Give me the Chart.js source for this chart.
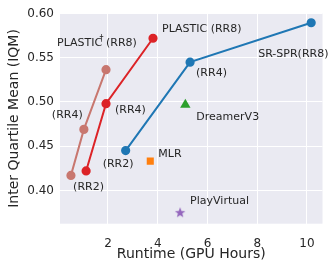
<!DOCTYPE html>
<html>
<head>
<meta charset="utf-8">
<script src="https://cdn.jsdelivr.net/npm/chart.js@4.4.1/dist/chart.umd.min.js"></script>
<style>
  html, body { margin: 0; padding: 0; background: #fff; }
  #wrap { width: 332px; height: 266px; }
</style>
</head>
<body>
<div id="wrap"><canvas id="chart" width="332" height="266"></canvas></div>
<script>
// runtime (GPU hours) and IQM
const plasticDagX = [0.51, 1.03, 1.92];
const plasticDagY = [0.417, 0.469, 0.5365];
const plasticX = [1.12, 1.92, 3.81];
const plasticY = [0.422, 0.498, 0.572];
const srsprX = [2.71, 5.30, 10.17];
const srsprY = [0.445, 0.545, 0.5895];
const dreamerV3 = [5.11, 0.4967];
const mlr = [3.70, 0.4331];
const playVirtual = [4.90, 0.3754];

const xTicks = [2, 4, 6, 8, 10];
const yTicks = [0.40, 0.45, 0.50, 0.55, 0.60];

const FONT = "'DejaVu Sans', sans-serif";
const TEXT = "#262626";

const toPts = (xs, ys) => xs.map((x, i) => ({ x, y: ys[i] }));

// filled star marker (chart.js 'star' is only a line asterisk)
function makeStar(size, color) {
  const c = document.createElement("canvas");
  c.width = size;
  c.height = size;
  const g = c.getContext("2d");
  const r = size / 2 - 0.5, ri = r * 0.42, cx = size / 2, cy = size / 2 + 0.6;
  g.beginPath();
  for (let i = 0; i < 10; i++) {
    const a = -Math.PI / 2 + i * Math.PI / 5;
    const rr = i % 2 ? ri : r;
    g.lineTo(cx + rr * Math.cos(a), cy + rr * Math.sin(a));
  }
  g.closePath();
  g.fillStyle = color;
  g.fill();
  return c;
}

// text labels, anchored to a point with a pixel offset
const notes = [
  { ds: 0, i: 2, dx: -49, dy: -27, parts: [["PLASTIC", 0, 11], ["\u2020", 42.5, 8, -4], ["(RR8)", 49, 11]] },
  { ds: 1, i: 2, dx: 9, dy: -9, parts: [["PLASTIC (RR8)", 0, 11]] },
  { ds: 2, i: 2, dx: -53, dy: 31, parts: [["SR-SPR(RR8)", 0, 11]] },
  { ds: 2, i: 1, dx: 6, dy: 11, parts: [["(RR4)", 0, 11]] },
  { ds: 1, i: 1, dx: 9, dy: 6, parts: [["(RR4)", 0, 11]] },
  { ds: 0, i: 1, dx: -32, dy: -14, parts: [["(RR4)", 0, 11]] },
  { ds: 3, i: 0, dx: 11, dy: 12, parts: [["DreamerV3", 0, 11]] },
  { ds: 2, i: 0, dx: -23, dy: 14, parts: [["(RR2)", 0, 11]] },
  { ds: 4, i: 0, dx: 8, dy: -7, parts: [["MLR", 0, 11]] },
  { ds: 1, i: 0, dx: -13, dy: 16, parts: [["(RR2)", 0, 11]] },
  { ds: 5, i: 0, dx: 10, dy: -11, parts: [["PlayVirtual", 0, 11]] }
];

const bgPlugin = {
  id: "bg",
  beforeDraw(chart) {
    const { ctx, chartArea: a } = chart;
    ctx.save();
    ctx.fillStyle = "#eaeaf2";
    ctx.fillRect(a.left, a.top, a.right - a.left, a.bottom - a.top);
    ctx.restore();
  }
};

const notePlugin = {
  id: "notes",
  afterDatasetsDraw(chart) {
    const ctx = chart.ctx;
    ctx.save();
    ctx.fillStyle = TEXT;
    ctx.textBaseline = "middle";
    ctx.textAlign = "left";
    notes.forEach(n => {
      const el = chart.getDatasetMeta(n.ds).data[n.i];
      n.parts.forEach(([t, off, size, raise]) => {
        ctx.font = size + "px " + FONT;
        ctx.fillText(t, el.x + n.dx + off, el.y + n.dy + (raise || 0));
      });
    });
    ctx.restore();
  }
};

const ctx = document.getElementById("chart").getContext("2d");

new Chart(ctx, {
  type: "scatter",
  data: {
    datasets: [
      {
        label: "PLASTIC\u2020",
        data: toPts(plasticDagX, plasticDagY),
        showLine: true,
        borderColor: "#c8776f",
        backgroundColor: "#c8776f",
        borderWidth: 2,
        pointRadius: 3.6
      },
      {
        label: "PLASTIC",
        data: toPts(plasticX, plasticY),
        showLine: true,
        borderColor: "#dc2327",
        backgroundColor: "#dc2327",
        borderWidth: 2,
        pointRadius: 3.6
      },
      {
        label: "SR-SPR",
        data: toPts(srsprX, srsprY),
        showLine: true,
        borderColor: "#1f77b4",
        backgroundColor: "#1f77b4",
        borderWidth: 2,
        pointRadius: 3.6
      },
      {
        label: "DreamerV3",
        data: [{ x: dreamerV3[0], y: dreamerV3[1] }],
        pointStyle: "triangle",
        backgroundColor: "#2ca02c",
        borderColor: "#2ca02c",
        borderWidth: 0,
        pointRadius: 6
      },
      {
        label: "MLR",
        data: [{ x: mlr[0], y: mlr[1] }],
        pointStyle: "rect",
        backgroundColor: "#ff7f0e",
        borderColor: "#ff7f0e",
        borderWidth: 0,
        pointRadius: 5
      },
      {
        label: "PlayVirtual",
        data: [{ x: playVirtual[0], y: playVirtual[1] }],
        pointStyle: makeStar(12, "#9467bd"),
        backgroundColor: "#9467bd",
        pointRadius: 6
      }
    ]
  },
  options: {
    responsive: false,
    animation: false,
    layout: { padding: { top: 10.5, right: 9.5, left: 0, bottom: 0 } },
    plugins: {
      legend: { display: false },
      tooltip: { enabled: false }
    },
    scales: {
      x: {
        type: "linear",
        min: 0.07,
        max: 10.625,
        afterBuildTicks: s => { s.ticks = xTicks.map(v => ({ value: v })); },
        afterFit: s => { s.height = 42.3; },
        border: { display: false },
        grid: { color: "#ffffff", lineWidth: 1, drawTicks: false },
        ticks: {
          padding: 12.8,
          color: TEXT,
          font: { family: FONT, size: 12 },
          callback: v => String(v)
        },
        title: {
          display: true,
          text: "Runtime (GPU Hours)",
          color: TEXT,
          font: { family: FONT, size: 14 },
          padding: { top: 0, bottom: 3.6 }
        }
      },
      y: {
        type: "linear",
        min: 0.3624,
        max: 0.6003,
        afterBuildTicks: s => { s.ticks = yTicks.map(v => ({ value: v })); },
        afterFit: s => { s.width = 60; },
        border: { display: false },
        grid: { color: "#ffffff", lineWidth: 1, drawTicks: false },
        ticks: {
          padding: 6,
          color: TEXT,
          font: { family: FONT, size: 12 },
          callback: v => v.toFixed(2)
        },
        title: {
          display: true,
          text: "Inter Quartile Mean (IQM)",
          color: TEXT,
          font: { family: FONT, size: 14 },
          padding: { top: 5.6, bottom: 0 }
        }
      }
    }
  },
  plugins: [bgPlugin, notePlugin]
});
</script>
</body>
</html>
